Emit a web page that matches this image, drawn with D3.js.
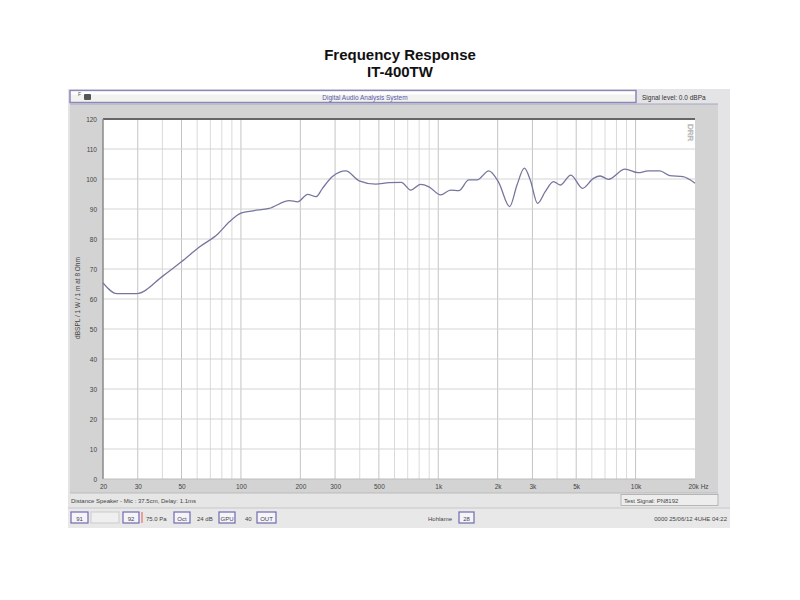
<!DOCTYPE html>
<html>
<head>
<meta charset="utf-8">
<script src="https://cdn.jsdelivr.net/npm/d3@7/dist/d3.min.js"></script>
<style>
  html, body { margin: 0; padding: 0; background: #ffffff; }
  svg { display: block; font-family: "Liberation Sans", Arial, sans-serif; }
</style>
</head>
<body>
<svg id="chart" width="800" height="600"></svg>
<script>
// ---- Data ----
const titleLines = ["Frequency Response", "IT-400TW"];
const freqs = [20, 23.5, 29.6, 40.3, 49.9, 61.8, 76.4, 87.6, 100, 115, 139, 176, 194, 218, 240, 259, 291, 340, 397, 482, 563, 650, 724, 814, 897, 1028, 1154, 1271, 1428, 1573, 1803, 2023, 2301, 2506, 2731, 2926, 3186, 3484, 3836, 4147, 4697, 5383, 6115, 6613, 7281, 8831, 10306, 11580, 13270, 14900, 17380, 20000];
const spl   = [65.4, 61.8, 61.8, 67.7, 72.4, 77.4, 81.7, 85.8, 88.6, 89.4, 90.2, 92.8, 92.4, 94.9, 94.1, 96.9, 100.8, 102.7, 99.4, 98.3, 98.8, 98.9, 96.3, 98.2, 97.4, 94.7, 96.3, 96.1, 99.7, 99.7, 102.7, 98.9, 90.8, 98.0, 103.6, 99.7, 91.9, 95.8, 99.1, 98.0, 101.3, 96.9, 100.2, 101.0, 99.9, 103.3, 102.1, 102.7, 102.7, 101.1, 100.8, 98.6];
const yTicks = [0, 10, 20, 30, 40, 50, 60, 70, 80, 90, 100, 110, 120];
const xLabelTicks = [20, 30, 50, 100, 200, 300, 500, 1000, 2000, 3000, 5000, 10000, 20000];
const xLabelText = ["20", "30", "50", "100", "200", "300", "500", "1k", "2k", "3k", "5k", "10k", "20k Hz"];
const yAxisTitle = "dBSPL / 1 W / 1 m at 8 Ohm";
const topBarText = "Digital Audio Analysis System";
const signalText = "Signal level:  0.0 dBPa";
const statusLeft = "Distance Speaker - Mic : 37.5cm, Delay: 1.1ms";
const statusRight = "Test Signal: PN8192";
const footerRight = "0000  25/06/12  4UHE 04:22";

// ---- Layout ----
const svg = d3.select("#chart");
const plot = { left: 103, right: 695, top: 119, bottom: 479 };

const x = d3.scaleLog().domain([20, 20000]).range([plot.left, plot.right]);
const y = d3.scaleLinear().domain([0, 120]).range([plot.bottom, plot.top]);

// Title
svg.selectAll("text.title").data(titleLines).enter().append("text")
  .attr("class", "title")
  .attr("x", 400).attr("y", (d, i) => 60 + i * 17)
  .attr("text-anchor", "middle")
  .attr("font-size", 15).attr("font-weight", "bold").attr("fill", "#111")
  .text(d => d);

// Window background
svg.append("rect").attr("x", 68).attr("y", 89).attr("width", 662).attr("height", 439)
  .attr("fill", "#e4e4e6");

// Top bar
svg.append("rect").attr("x", 70).attr("y", 90.5).attr("width", 566).attr("height", 12)
  .attr("fill", "#f2f2ee").attr("stroke", "#8a88b8").attr("stroke-width", 1.5);
svg.append("rect").attr("x", 71).attr("y", 91.5).attr("width", 564).attr("height", 3)
  .attr("fill", "#ffffff");
svg.append("text").attr("x", 365).attr("y", 99.5).attr("text-anchor", "middle")
  .attr("font-size", 6.5).attr("fill", "#5a58a8").text(topBarText);
svg.append("rect").attr("x", 84).attr("y", 94).attr("width", 7).attr("height", 6)
  .attr("fill", "#555").attr("rx", 1);
svg.append("text").attr("x", 78).attr("y", 96).attr("font-size", 5).attr("fill", "#555").text("F");
svg.append("text").attr("x", 642).attr("y", 99.5).attr("font-size", 6.5).attr("fill", "#333").text(signalText);

// Grey panel
svg.append("rect").attr("x", 70).attr("y", 104).attr("width", 648).attr("height", 389)
  .attr("fill", "#d3d3d3");
svg.append("line").attr("x1", 70).attr("x2", 718).attr("y1", 104).attr("y2", 104)
  .attr("stroke", "#a8a8c0").attr("stroke-width", 1);

// Plot area
svg.append("rect").attr("x", plot.left).attr("y", plot.top)
  .attr("width", plot.right - plot.left).attr("height", plot.bottom - plot.top)
  .attr("fill", "#ffffff");

// Vertical grid (log minor)
const gridFreqs = [];
[10, 100, 1000, 10000].forEach(dec => {
  for (let m = 1; m <= 9; m++) {
    const f = dec * m;
    if (f > 20 && f < 20000) gridFreqs.push(f);
  }
});
const majorSet = new Set([30, 50, 100, 200, 300, 500, 1000, 2000, 3000, 5000, 10000]);
svg.append("g").selectAll("line").data(gridFreqs).enter().append("line")
  .attr("x1", d => x(d)).attr("x2", d => x(d))
  .attr("y1", plot.top).attr("y2", plot.bottom)
  .attr("stroke", d => majorSet.has(d) ? "#c4c4c4" : "#dadada")
  .attr("stroke-width", 1);

// Horizontal grid
svg.append("g").selectAll("line").data(yTicks.filter(d => d > 0 && d < 120)).enter().append("line")
  .attr("x1", plot.left).attr("x2", plot.right)
  .attr("y1", d => y(d)).attr("y2", d => y(d))
  .attr("stroke", "#d4d4d4").attr("stroke-width", 1);

// Plot border (top and left dark)
svg.append("line").attr("x1", plot.left).attr("x2", plot.right).attr("y1", plot.top).attr("y2", plot.top)
  .attr("stroke", "#666").attr("stroke-width", 2);
svg.append("line").attr("x1", plot.left).attr("x2", plot.left).attr("y1", plot.top).attr("y2", plot.bottom)
  .attr("stroke", "#8a8a8a").attr("stroke-width", 1.5);
svg.append("line").attr("x1", plot.left).attr("x2", plot.right).attr("y1", plot.bottom).attr("y2", plot.bottom)
  .attr("stroke", "#bdbdbd").attr("stroke-width", 1);

// Y axis
const yAxis = d3.axisLeft(y).tickValues(yTicks).tickSize(0).tickPadding(6);
const gy = svg.append("g").attr("transform", `translate(${plot.left},0)`).call(yAxis);
gy.select(".domain").remove();
gy.selectAll("text").attr("font-size", 6.5).attr("fill", "#444")
  .style("font-family", "Liberation Sans, Arial, sans-serif");

// X axis
const xAxis = d3.axisBottom(x).tickValues(xLabelTicks)
  .tickFormat((d, i) => xLabelText[i]).tickSize(0).tickPadding(5);
const gx = svg.append("g").attr("transform", `translate(0,${plot.bottom})`).call(xAxis);
gx.select(".domain").remove();
gx.selectAll("text").attr("font-size", 6.5).attr("fill", "#444")
  .style("font-family", "Liberation Sans, Arial, sans-serif");
gx.selectAll("text").filter(d => d === 20000).attr("text-anchor", "middle").attr("dx", 3);

// Y axis title
svg.append("text").attr("transform", "translate(80,298) rotate(-90)")
  .attr("text-anchor", "middle").attr("font-size", 6.5).attr("fill", "#444")
  .text(yAxisTitle);

// DRR marker
svg.append("text").attr("transform", "translate(688,124) rotate(90)")
  .attr("font-size", 8).attr("fill", "none").attr("stroke", "#bbb").attr("stroke-width", 0.6)
  .text("DRR");

// Curve
const pts = freqs.map((f, i) => [f, spl[i]]);
const line = d3.line().x(d => x(d[0])).y(d => y(d[1])).curve(d3.curveMonotoneX);
svg.append("path").datum(pts).attr("d", line)
  .attr("fill", "none").attr("stroke", "#76769e").attr("stroke-width", 1.3);

// Status row
svg.append("rect").attr("x", 70).attr("y", 493).attr("width", 648).attr("height", 14)
  .attr("fill", "#e6e6e6");
svg.append("line").attr("x1", 70).attr("x2", 718).attr("y1", 493).attr("y2", 493).attr("stroke", "#bbb");
svg.append("text").attr("x", 71).attr("y", 503).attr("font-size", 6).attr("fill", "#444").text(statusLeft);
svg.append("rect").attr("x", 621).attr("y", 494.5).attr("width", 97).attr("height", 11)
  .attr("fill", "#ededed").attr("stroke", "#aaa").attr("stroke-width", 0.8);
svg.append("text").attr("x", 624).attr("y", 503).attr("font-size", 6).attr("fill", "#444").text(statusRight);

// Button row
svg.append("rect").attr("x", 68).attr("y", 508).attr("width", 662).attr("height", 20)
  .attr("fill", "#e8e8e8");
svg.append("line").attr("x1", 68).attr("x2", 730).attr("y1", 508).attr("y2", 508).attr("stroke", "#c8c8c8");
const buttons = [
  { x: 71, w: 17, t: "91", box: true },
  { x: 91, w: 28, t: "", box: "dim" },
  { x: 123, w: 16, t: "92", box: true },
  { x: 146, w: 0, t: "75.0 Pa", box: false },
  { x: 174, w: 16, t: "Oct", box: true },
  { x: 197, w: 0, t: "24 dB", box: false },
  { x: 219, w: 16, t: "GPU", box: true },
  { x: 245, w: 0, t: "40", box: false },
  { x: 257, w: 19, t: "OUT", box: true },
  { x: 428, w: 0, t: "Hohlame", box: false },
  { x: 459, w: 15, t: "28", box: true }
];
buttons.forEach(b => {
  if (b.box) {
    svg.append("rect").attr("x", b.x).attr("y", 512).attr("width", b.w).attr("height", 11)
      .attr("fill", b.box === "dim" ? "#efefef" : "#f4f4fa")
      .attr("stroke", b.box === "dim" ? "#d0d0d0" : "#6e6cb0").attr("stroke-width", 1.2);
    if (b.t) svg.append("text").attr("x", b.x + b.w / 2).attr("y", 520.5).attr("text-anchor", "middle")
      .attr("font-size", 6).attr("fill", "#444").text(b.t);
  } else {
    svg.append("text").attr("x", b.x).attr("y", 520.5).attr("font-size", 6).attr("fill", "#444").text(b.t);
  }
});
svg.append("rect").attr("x", 141).attr("y", 512).attr("width", 2).attr("height", 11).attr("fill", "#e7a0a0");
svg.append("text").attr("x", 727).attr("y", 520.5).attr("text-anchor", "end")
  .attr("font-size", 6).attr("fill", "#444").text(footerRight);
</script>
</body>
</html>
